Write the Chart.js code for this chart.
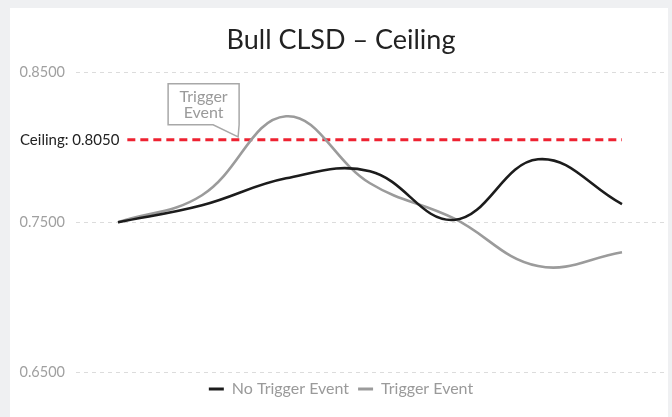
<!DOCTYPE html>
<html>
<head>
<meta charset="utf-8">
<script src="https://cdn.jsdelivr.net/npm/chart.js@4/dist/chart.umd.min.js"></script>
<style>
  html, body { margin: 0; padding: 0; background: #eff0f2; width: 672px; height: 417px; overflow: hidden; }
  #card { position: absolute; left: 10px; top: 8px; width: 658px; height: 409px; background: #ffffff; }
  #wrap { position: absolute; left: 0; top: 0; width: 672px; height: 417px; }
</style>
</head>
<body>
<div id="card"></div>
<div id="wrap"><canvas id="c" width="672" height="417"></canvas></div>
<script>
const categories = ['P1', 'P2', 'P3', 'P4', 'P5', 'P6', 'P7'];
const noTriggerEvent = [0.7500, 0.7613, 0.7793, 0.7840, 0.7515, 0.7920, 0.7620];
const triggerEvent   = [0.7500, 0.7680, 0.8207, 0.7760, 0.7525, 0.7207, 0.7300];
const yTicks = [0.65, 0.75, 0.85];
const ceilingValue = 0.805;
const ceilingLabel = 'Ceiling: 0.8050';
const calloutLines = ['Trigger', 'Event'];
const titleText = 'Bull CLSD – Ceiling';

const FONT = 'Lato, "Noto Sans", sans-serif';

const overlay = {
  id: 'overlay',
  beforeDatasetsDraw(chart) {
    const ctx = chart.ctx;
    const y = chart.scales.y.getPixelForValue(ceilingValue);
    const x = chart.scales.x;
    ctx.save();
    ctx.font = '15px ' + FONT;
    ctx.fillStyle = '#222222';
    ctx.textBaseline = 'middle';
    ctx.textAlign = 'left';
    const lx = chart.chartArea.left - 56;
    ctx.fillText(ceilingLabel, lx, y);
    const w = ctx.measureText(ceilingLabel).width;
    ctx.strokeStyle = '#ee2231';
    ctx.lineWidth = 3;
    ctx.setLineDash([8, 5]);
    ctx.beginPath();
    ctx.moveTo(lx + w + 8, y);
    ctx.lineTo(x.getPixelForValue(categories.length - 1), y);
    ctx.stroke();
    ctx.restore();
  },
  afterDatasetsDraw(chart) {
    const ctx = chart.ctx;
    const x = chart.scales.x;
    const y = chart.scales.y.getPixelForValue(ceilingValue);
    const step = x.getPixelForValue(2) - x.getPixelForValue(1);
    const tipX = x.getPixelForValue(1) + 0.43 * step;
    const tipY = y - 3;
    const right = tipX + 1, left = right - 71, bottom = tipY - 12, top = bottom - 41;
    ctx.save();
    ctx.strokeStyle = '#a8a8a8';
    ctx.lineWidth = 1.5;
    ctx.fillStyle = '#ffffff';
    ctx.beginPath();
    ctx.moveTo(left, top);
    ctx.lineTo(right, top);
    ctx.lineTo(right, bottom);
    ctx.lineTo(tipX, tipY);
    ctx.lineTo(right - 26, bottom);
    ctx.lineTo(left, bottom);
    ctx.closePath();
    ctx.fill();
    ctx.stroke();
    ctx.font = '16px ' + FONT;
    ctx.fillStyle = '#9a9a9a';
    ctx.textAlign = 'center';
    ctx.textBaseline = 'middle';
    const cx = (left + right) / 2;
    ctx.fillText(calloutLines[0], cx, top + 13);
    ctx.fillText(calloutLines[1], cx, top + 29);
    ctx.restore();
  }
};

new Chart(document.getElementById('c'), {
  type: 'line',
  data: {
    labels: categories,
    datasets: [
      { label: 'No Trigger Event', data: noTriggerEvent, borderColor: '#1c1c1c', backgroundColor: '#1c1c1c', borderWidth: 2.6, pointRadius: 0, tension: 0.4, fill: false, order: 1 },
      { label: 'Trigger Event', data: triggerEvent, borderColor: '#9b9b9b', backgroundColor: '#9b9b9b', borderWidth: 2.6, pointRadius: 0, tension: 0.4, fill: false, order: 2 }
    ]
  },
  options: {
    responsive: false,
    animation: false,
    layout: { padding: { left: 18, right: 8, top: 10, bottom: 10 } },
    plugins: {
      title: {
        display: true, text: titleText, color: '#222222',
        font: { family: FONT, size: 27, weight: 'normal' },
        padding: { top: 14, bottom: 16 }
      },
      legend: {
        position: 'bottom',
        labels: {
          color: '#9a9a9a', font: { family: FONT, size: 16 },
          boxWidth: 15, boxHeight: 3, padding: 9,
          generateLabels(chart) {
            return chart.data.datasets.map((d, i) => ({
              text: d.label, fillStyle: d.borderColor, strokeStyle: d.borderColor,
              lineWidth: 0, hidden: false, datasetIndex: i, fontColor: '#9a9a9a'
            }));
          }
        }
      },
      tooltip: { enabled: false }
    },
    scales: {
      x: { type: 'category', display: false, offset: true },
      y: {
        min: 0.65, max: 0.85,
        afterBuildTicks(scale) { scale.ticks = yTicks.map(v => ({ value: v })); },
        afterFit(scale) { scale.width = 58; },
        border: { display: false, dash: [4, 4] },
        grid: { color: '#dcdcdc', lineWidth: 1, drawTicks: false },
        ticks: {
          color: '#a0a0a0', padding: 11, font: { family: FONT, size: 14.5 },
          callback: v => v.toFixed(4)
        }
      }
    }
  },
  plugins: [overlay]
});
</script>
</body>
</html>
